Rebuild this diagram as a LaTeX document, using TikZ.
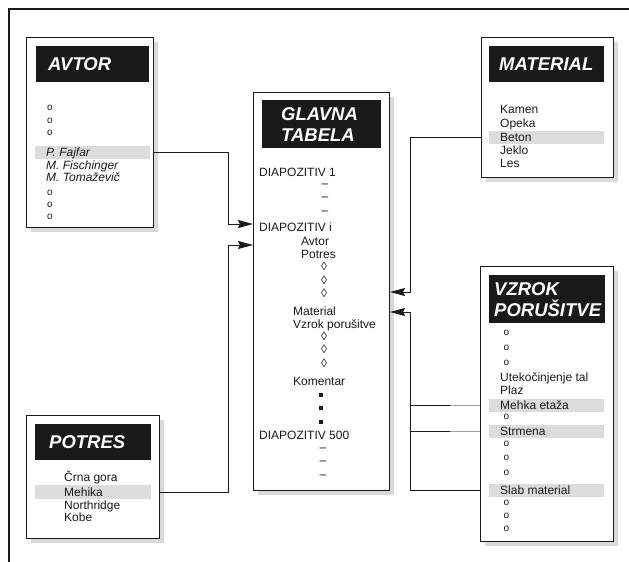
\documentclass[tikz,border=0pt]{standalone}
\usepackage{fontspec}
\setmainfont{Liberation Sans}
\usetikzlibrary{arrows.meta, shadows}
\definecolor{ink}{HTML}{1A1A1A}
\definecolor{rowbg}{HTML}{DCDCDC}
\definecolor{shade}{HTML}{D9D9D9}
\definecolor{fade}{HTML}{A0A0A0}
\newcommand\itmfont{\fontsize{12}{13}\selectfont}
\newcommand\ttlfont{\fontsize{18.5}{21}\selectfont\bfseries\itshape}
\newcommand\dotfont{\fontsize{10}{11}\selectfont}
\tikzset{
  box/.style={draw=ink, fill=white, line width=1pt, anchor=north west, inner sep=0pt,
              drop shadow={shadow xshift=4pt, shadow yshift=-4pt, fill=shade, opacity=1}},
  ttl/.style={fill=ink, text=white, font=\ttlfont, anchor=north west, inner ysep=0pt, align=left},
  hlbar/.style={fill=rowbg, anchor=north west, inner sep=0pt, minimum height=13pt},
  itm/.style={anchor=base west, inner sep=0pt, font=\itmfont, text=ink},
  sym/.style={anchor=base, inner sep=0pt, font=\itmfont, text=ink},
  sq/.style={fill=ink, inner sep=0pt, minimum size=3.2pt},
  dot/.style={anchor=base west, inner sep=0pt, font=\dotfont, text=ink},
  ln/.style={draw=ink, line width=0.9pt},
  fl/.style={ln, -{Stealth[length=15pt, width=8pt, inset=2pt]}},
}

\begin{document}
\begin{tikzpicture}[x=1pt, y=-1pt]
  \useasboundingbox (0,0) rectangle (629,562);
  \draw[draw=ink, line width=1.1pt] (629,9) -- (9,9) -- (9,562);

  % tables
  \node[box, minimum width=127pt, minimum height=190pt] (avtor) at (26,37) {};
  \node[box, minimum width=136pt, minimum height=398pt] (glavna) at (253,92) {};
  \node[box, minimum width=132pt, minimum height=140pt] (material) at (481,37) {};
  \node[box, minimum width=133pt, minimum height=275pt] (vzrok) at (480,266) {};
  \node[box, minimum width=133pt, minimum height=123pt] (potres) at (26,415) {};

  \node[ttl, text width=89pt, inner xsep=12pt, minimum height=36pt] (avtor-t) at (36,46) {AVTOR};
  \node[ttl, text width=81pt, inner xsep=19pt, minimum height=48pt] (glavna-t) at (262,100) {GLAVNA\\TABELA};
  \node[ttl, text width=95pt, inner xsep=10pt, minimum height=36pt] (material-t) at (489,46) {MATERIAL};
  \node[ttl, text width=106pt, inner xsep=5pt, minimum height=48pt] (vzrok-t) at (489,275) {VZROK\\PORUŠITVE};
  \node[ttl, text width=88pt, inner xsep=14pt, minimum height=36pt] (potres-t) at (35,424) {POTRES};

  % selected rows
  \node[hlbar, minimum width=115pt] (hlfajfar) at (35,145.5) {};
  \node[hlbar, minimum width=115pt] (hlbeton) at (489,130.5) {};
  \node[hlbar, minimum width=115pt] (hlmehka) at (489,398.5) {};
  \node[hlbar, minimum width=115pt] (hlstrm) at (489,424.5) {};
  \node[hlbar, minimum width=115pt] (hlslab) at (489,484) {};
  \node[hlbar, minimum width=116pt, minimum height=14pt] (hlmehika) at (35,485) {};

  % AVTOR
  \node[dot] (av-o1) at (47,110) {o};
  \node[dot] (av-o2) at (47,123) {o};
  \node[dot] (av-o3) at (47,135) {o};
  \node[itm, font=\itmfont\itshape] (fajfar) at (46,156) {P. Fajfar};
  \node[itm, font=\itmfont\itshape] (fischinger) at (46,169) {M. Fischinger};
  \node[itm, font=\itmfont\itshape] (tomazevic) at (46,181) {M. Tomaževič};
  \node[dot] (av-o4) at (47,195) {o};
  \node[dot] (av-o5) at (47,207) {o};
  \node[dot] (av-o6) at (47,219) {o};

  % GLAVNA TABELA
  \node[itm] (dia1) at (259,176) {DIAPOZITIV 1};
  \node[sym] (g-d1) at (325,187.5) {–};
  \node[sym] (g-d2) at (325,200.5) {–};
  \node[sym] (g-d3) at (325,214.5) {–};
  \node[itm] (diai) at (259,231) {DIAPOZITIV i};
  \node[itm] (g-avtor) at (301,245) {Avtor};
  \node[itm] (g-potres) at (301,258) {Potres};
  \node[sym] (g-z1) at (324,270) {◊};
  \node[sym] (g-z2) at (324,284) {◊};
  \node[sym] (g-z3) at (324,297) {◊};
  \node[itm] (g-material) at (293,315) {Material};
  \node[itm] (g-vzrok) at (293,328) {Vzrok porušitve};
  \node[sym] (g-z4) at (324,340) {◊};
  \node[sym] (g-z5) at (324,353) {◊};
  \node[sym] (g-z6) at (324,367) {◊};
  \node[itm] (g-komentar) at (293,385) {Komentar};
  \node[sq] (g-s1) at (321,395) {};
  \node[sq] (g-s2) at (321,408) {};
  \node[sq] (g-s3) at (321,422) {};
  \node[itm] (dia500) at (259,439) {DIAPOZITIV 500};
  \node[sym] (g-d4) at (323,451.5) {–};
  \node[sym] (g-d5) at (323,464.5) {–};
  \node[sym] (g-d6) at (323,478.5) {–};

  % MATERIAL
  \node[itm] (kamen) at (500,113) {Kamen};
  \node[itm] (opeka) at (500,127) {Opeka};
  \node[itm] (beton) at (500,141) {Beton};
  \node[itm] (jeklo) at (500,154) {Jeklo};
  \node[itm] (les) at (500,167.5) {Les};

  % VZROK PORUSITVE
  \node[dot] (vz-o1) at (503.5,335) {o};
  \node[dot] (vz-o2) at (503.5,350) {o};
  \node[dot] (vz-o3) at (503.5,365) {o};
  \node[itm] (utek) at (500,381) {Utekočinjenje tal};
  \node[itm] (plaz) at (500,394) {Plaz};
  \node[itm] (mehka) at (500,409) {Mehka etaža};
  \node[dot] (vz-o4) at (503.5,419) {o};
  \node[itm] (strmena) at (500,435) {Strmena};
  \node[dot] (vz-o5) at (503.5,446) {o};
  \node[dot] (vz-o6) at (503.5,460) {o};
  \node[dot] (vz-o7) at (503.5,475) {o};
  \node[itm] (slab) at (500,494.5) {Slab material};
  \node[dot] (vz-o8) at (503.5,505) {o};
  \node[dot] (vz-o9) at (503.5,518) {o};
  \node[dot] (vz-o10) at (503.5,531) {o};

  % POTRES
  \node[itm] (crna) at (64,481) {Črna gora};
  \node[itm] (mehika) at (64,496) {Mehika};
  \node[itm] (northridge) at (64,509.5) {Northridge};
  \node[itm] (kobe) at (64,521.5) {Kobe};

  % links
  \coordinate (jA) at (228,224);
  \coordinate (jP) at (228,245);
  \coordinate (jM) at (410,292);
  \coordinate (jV) at (410,312);
  \draw[fl] (hlfajfar.east -| avtor.east) -| (jA) -- (jA -| glavna.west);
  \draw[fl] (hlmehika.east -| potres.east) -| (jP) -- (jP -| glavna.west);
  \draw[fl] (hlbeton.west -| material.west) -| (jM) -- (jM -| glavna.east);
  \draw[fl] (hlslab.west -| vzrok.west) -| (jV) -- (jV -| glavna.east);
  \draw[ln] (hlmehka.west -| vzrok.west) -- (hlmehka.west -| jV);
  \draw[ln, line width=1.3pt] (hlstrm.west -| vzrok.west) -- (hlstrm.west -| jV);
  \draw[ln, draw=fade] (hlmehka.west -| vzrok.west) -- ++(-30,0);
  \draw[ln, draw=fade, line width=1.3pt] (hlstrm.west -| vzrok.west) -- ++(-30,0);
\end{tikzpicture}
\end{document}
